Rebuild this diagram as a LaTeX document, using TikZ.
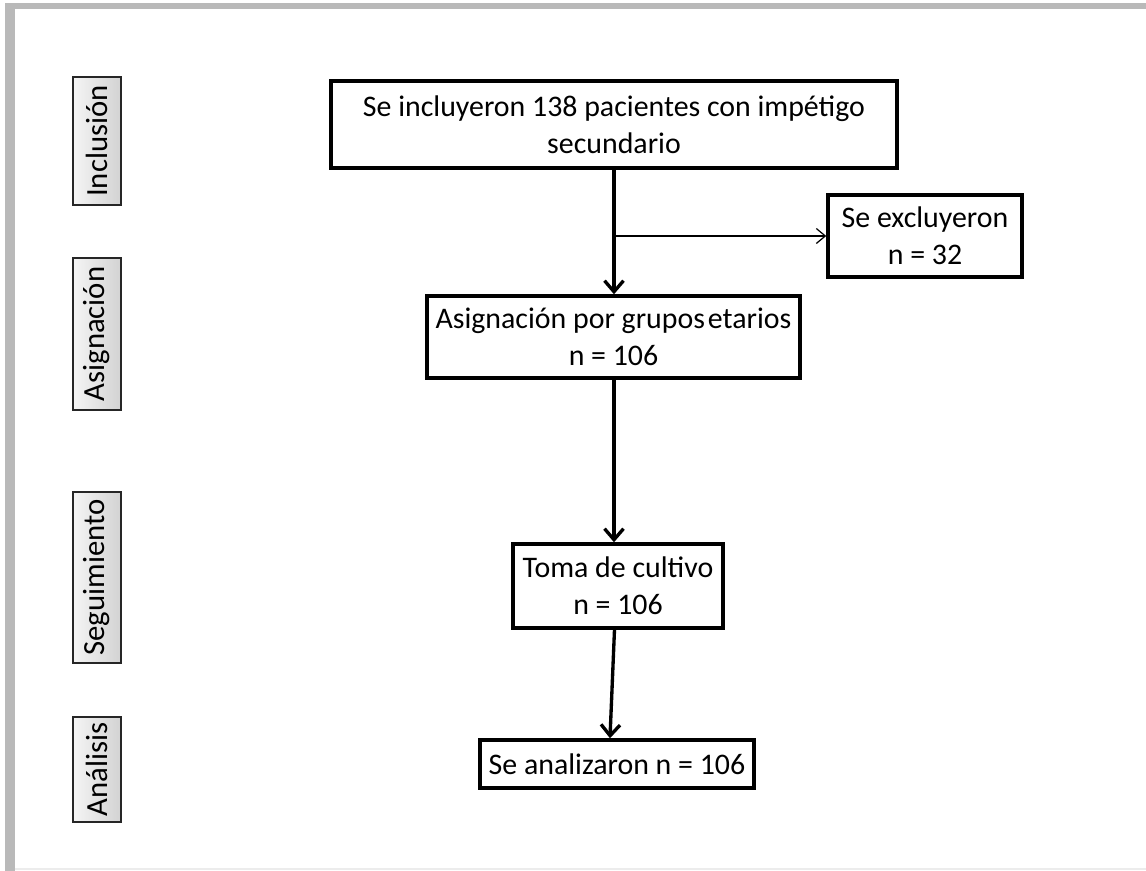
\documentclass[tikz,border=0pt]{standalone}
\usepackage{fontspec}
\setmainfont{Carlito}
\usetikzlibrary{arrows.meta,calc}

\begin{document}
\begin{tikzpicture}[x=0.02cm,y=-0.02cm,
  flowbox/.style={draw=black, line width=2pt, fill=white, align=center, inner sep=0pt,
                  font=\fontsize{17}{21}\selectfont},
  stagebox/.style={draw=black!85, line width=1.1pt, left color=gray!8, right color=gray!35,
                   rotate=90, inner sep=0pt, minimum height=0.96cm,
                   font=\fontsize{17.5}{20}\selectfont},
  mainarrow/.style={line width=1.9pt, -{Straight Barb[length=2.2mm,width=3.8mm]}},
  sidearrow/.style={line width=0.7pt, -{Straight Barb[length=1.8mm,width=3mm]}}]
\useasboundingbox [fill=white] (0,0) rectangle (1146,871);

% window frame
\fill [gray!55] (5,3) rectangle (1146,9);
\fill [gray!55] (5,3) rectangle (15,871);
\draw [gray!15, line width=0.6pt] (15,869) -- (1146,869);

% stages
\node [stagebox, minimum width=2.56cm] (incl) at (97,141) {Inclusión};
\node [stagebox, minimum width=3.04cm] (asig) at (97,334) {Asignación};
\node [stagebox, minimum width=3.42cm] (segu) at (97,577.5) {Seguimiento};
\node [stagebox, minimum width=2.10cm] (anal) at (97,769.5) {Análisis};

% flow
\node [flowbox, minimum width=11.32cm, minimum height=1.74cm] (pac) at (614,124.5)
  {Se incluyeron 138 pacientes con impétigo\\secundario};
\node [flowbox, minimum width=3.88cm, minimum height=1.64cm] (excl) at (925,236)
  {Se excluyeron\\n = 32};
\node [flowbox, minimum width=7.46cm, minimum height=1.64cm] (asg) at (613.5,337)
  {Asignación por grupos\hspace{0.1em}etarios\\n = 106};
\node [flowbox, minimum width=4.2cm, minimum height=1.68cm] (cult) at (618,586)
  {Toma de cultivo\\n = 106};
\node [flowbox, minimum width=5.48cm, minimum height=0.96cm] (anz) at (617,764)
  {Se analizaron n = 106};

\coordinate (split) at (pac.south |- excl.west);

\draw [mainarrow] (pac.south) -- (pac.south |- asg.north);
\draw [sidearrow] (split) -- (excl.west);
\draw [mainarrow] (asg.south -| pac.south) -- (pac.south |- cult.north);
\draw [mainarrow] ([xshift=-2pt]cult.south) -- ([xshift=-4pt]anz.north);
\end{tikzpicture}
\end{document}
